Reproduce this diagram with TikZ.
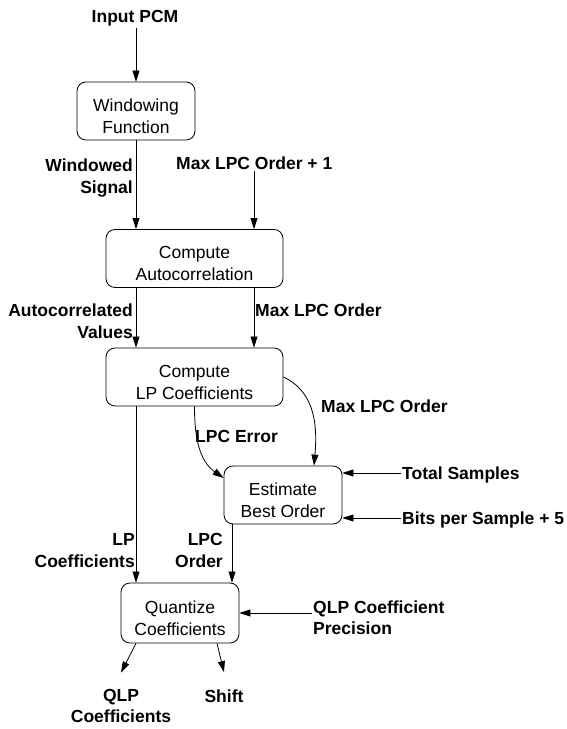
\documentclass[tikz,border=0pt]{standalone}
\usepackage{fontspec}
\setmainfont{Liberation Sans}
\usetikzlibrary{arrows.meta,positioning}
\tikzstyle{proc} = [rectangle, rounded corners=9pt, draw=black, line width=0.8pt, align=center, font=\fontsize{17.5}{22}\selectfont, text height=44.5pt, text depth=0pt, minimum width=118pt, minimum height=58pt, inner sep=0pt]
\tikzstyle{wideproc} = [proc, minimum width=177pt]
\tikzstyle{sigtext} = [draw=none, fill=none, font=\fontsize{17.5}{22}\selectfont\bfseries, inner sep=1pt]
\tikzstyle{sedge} = [draw, line width=0.8pt, -{Triangle[length=11pt,width=7pt]}]

\begin{document}
\begin{tikzpicture}[x=1pt, y=1pt]
\useasboundingbox (0,0) rectangle (567,729);

% blocks =============================
\node[proc] (win) at (136,618) {Windowing\\Function};
\node[wideproc] (acorr) at (194.5,470.5) {Compute\\Autocorrelation};
\node[wideproc] (lpc) at (194.5,352) {Compute\\LP Coefficients};
\node[proc] (est) at (283,234) {Estimate\\Best Order};
\node[proc, minimum height=60pt] (quant) at (180,116) {Quantize\\Coefficients};

% signals =============================
\node[sigtext, anchor=base] (pcm) at (135,706) {Input PCM};
\node[sigtext, anchor=base east, align=right] (wsig) at (134,535) {Windowed\\Signal};
\node[sigtext, anchor=base west] (maxone) at (175,559) {Max LPC Order + 1};
\node[sigtext, anchor=base east, align=right] (acval) at (134,390) {Autocorrelated\\Values};
\node[sigtext, anchor=base west] (maxord) at (254,412) {Max LPC Order};
\node[sigtext, anchor=base west] (maxord2) at (320,316) {Max LPC Order};
\node[sigtext, anchor=base west] (lpcerr) at (194,286) {LPC Error};
\node[sigtext, anchor=base west] (tots) at (401,249) {Total Samples};
\node[sigtext, anchor=base west] (bps) at (401,204) {Bits per Sample + 5};
\node[sigtext, anchor=base east, align=right] (lpcoef) at (136,161) {LP\\Coefficients};
\node[sigtext, anchor=base east, align=right] (lpord) at (224,161) {LPC\\Order};
\node[sigtext, anchor=base west, align=left] (qprec) at (312,94) {QLP Coefficient\\Precision};
\node[sigtext, anchor=base, align=center] (qcoef) at (121,6) {QLP\\Coefficients};
\node[sigtext, anchor=base] (shiftout) at (224,27) {Shift};

%edges
\coordinate (acin) at ([xshift=59.5pt]acorr.north);
\path[sedge] (pcm.south -| win.north) -- (win.north);
\path[sedge] (win.south) -- (win.south |- acorr.north);
\path[sedge] (maxone.south -| acin) -- (acin);
\path[sedge] ([xshift=-58.5pt]acorr.south) -- ([xshift=-58.5pt]lpc.north);
\path[sedge] ([xshift=59.5pt]acorr.south) -- ([xshift=59.5pt]lpc.north);
\path[sedge] ([xshift=-58.5pt]lpc.south) -- ([xshift=-58.5pt]lpc.south |- quant.north);

%edges estimate
\path[sedge] (lpc.south) to[out=-90, in=145] ([yshift=17pt]est.west);
\path[sedge] (lpc.east) to[out=-25, in=85] ([xshift=31pt]est.north);
\path[sedge] ([yshift=7pt]tots.base west) -- ([yshift=7pt]tots.base west -| est.east);
\path[sedge] ([yshift=7pt]bps.base west) -- ([yshift=7pt]bps.base west -| est.east);
\path[sedge] ([xshift=-51pt]est.south) -- ([xshift=-51pt]est.south |- quant.north);

%edges quantize
\path[sedge] (qprec.west |- quant.east) -- (quant.east);
\path[sedge] ([xshift=-44pt]quant.south) -- ([yshift=15pt]qcoef.north);
\path[sedge] ([xshift=37pt]quant.south) -- ([yshift=16pt]shiftout.north);

\end{tikzpicture}
\end{document}
